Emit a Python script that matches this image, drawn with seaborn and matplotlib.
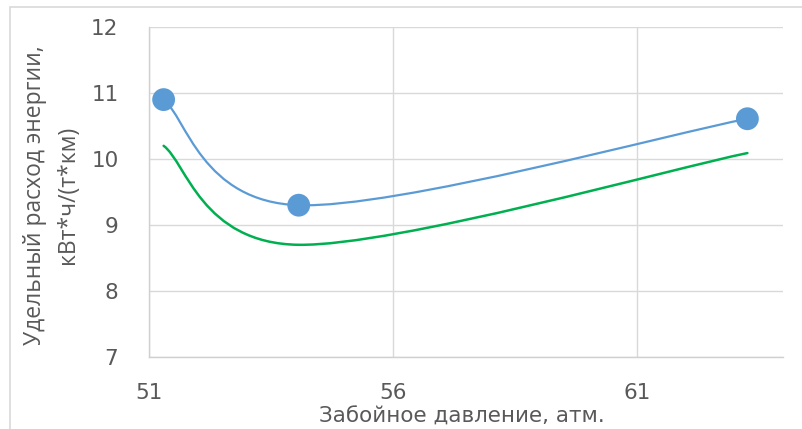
import matplotlib
matplotlib.use("Agg")
import matplotlib.pyplot as plt
from matplotlib.path import Path
from matplotlib.patches import PathPatch, Rectangle
import seaborn as sns
import pandas as pd

# Bottom-hole pressure, atm
pressure = [51.3, 54.07, 63.27]
# Specific energy consumption, kWh/(t*km)
energy_blue = [10.9, 9.3, 10.61]
energy_green = [10.2, 8.7, 10.09]

x_ticks = [51, 56, 61]
y_ticks = [7, 8, 9, 10, 11, 12]

sns.set_theme(style="white")
plt.rcParams["font.family"] = ["DejaVu Sans"]

fig = plt.figure(figsize=(8.02, 4.29), dpi=100)
ax = fig.add_axes([149 / 802, 1 - 357 / 429, (783 - 149) / 802, (357 - 27) / 429])


def smooth_path(xs, ys, t=1 / 6):
    """Cubic Bezier path through the points (spreadsheet-style smoothed line)."""
    pts = list(zip(xs, ys))
    n = len(pts)
    verts = [pts[0]]
    codes = [Path.MOVETO]
    for i in range(n - 1):
        p0 = pts[i - 1] if i > 0 else pts[i]
        p1 = pts[i]
        p2 = pts[i + 1]
        p3 = pts[i + 2] if i + 2 < n else pts[i + 1]
        c1 = (p1[0] + (p2[0] - p0[0]) * t, p1[1] + (p2[1] - p0[1]) * t)
        c2 = (p2[0] - (p3[0] - p1[0]) * t, p2[1] - (p3[1] - p1[1]) * t)
        verts += [c1, c2, p2]
        codes += [Path.CURVE4] * 3
    return Path(verts, codes)


ax.add_patch(PathPatch(smooth_path(pressure, energy_blue), fill=False,
                       edgecolor="#5B9BD5", lw=1.6, zorder=3, capstyle="round"))
ax.add_patch(PathPatch(smooth_path(pressure, energy_green), fill=False,
                       edgecolor="#00B050", lw=1.8, zorder=3, capstyle="round"))

df = pd.DataFrame({"p": pressure, "e": energy_blue})
sns.scatterplot(data=df, x="p", y="e", ax=ax, s=270, color="#5B9BD5",
                edgecolor="none", zorder=4, legend=False)

ax.set_xlim(51, 64)
ax.set_ylim(7, 12)
ax.set_xticks(x_ticks)
ax.set_yticks(y_ticks)
ax.grid(True, color="#d9d9d9", lw=1.0)
ax.set_axisbelow(True)
for side in ["top", "right"]:
    ax.spines[side].set_visible(False)
for side in ["left", "bottom"]:
    ax.spines[side].set_color("#d0d0d0")
    ax.spines[side].set_linewidth(1.0)

ax.tick_params(axis="x", length=0, pad=19, labelsize=15.5, labelcolor="#595959")
ax.tick_params(axis="y", length=0, pad=22, labelsize=15.5, labelcolor="#595959")

ax.set_xlabel("Забойное давление, атм.", fontsize=15.5, color="#595959")
ax.xaxis.label.set_va("baseline")
ax.xaxis.set_label_coords((462 - 149) / 634, -66 / 330)

ax.set_ylabel("Удельный расход энергии,\nкВт*ч/(т*км)", fontsize=16.5,
              family=["Open Sans", "DejaVu Sans"],
              color="#595959", linespacing=1.5)
ax.yaxis.label.set_va("center")
ax.yaxis.set_label_coords(-97 / 634, 0.49)

# chart area border
fig.add_artist(Rectangle((10 / 802, -0.1), 1.2, 1 - 7 / 429 + 0.1,
                         transform=fig.transFigure, fill=False,
                         edgecolor="#d9d9d9", lw=1.2))

fig.savefig("out.png", dpi=100)
